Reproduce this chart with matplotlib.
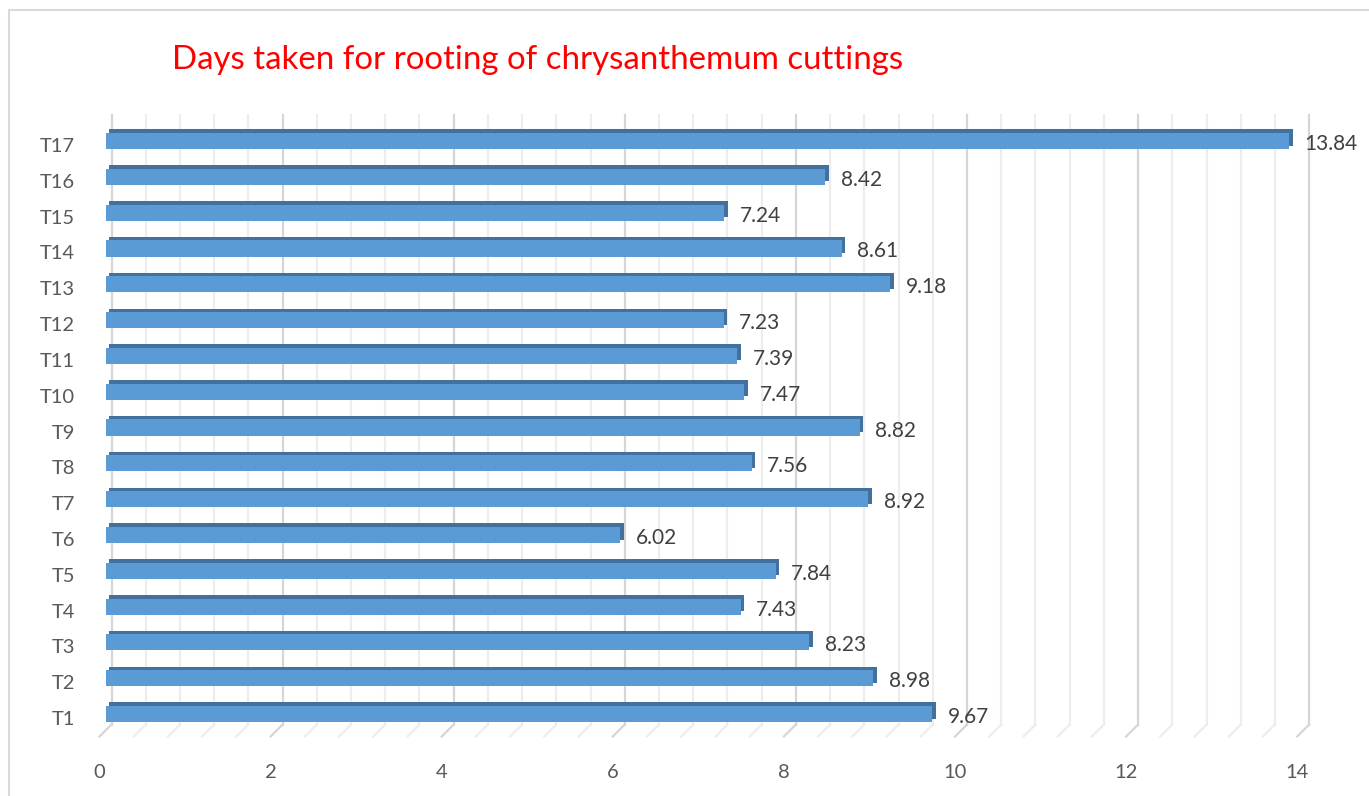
import numpy as np
import matplotlib
matplotlib.use("Agg")
from matplotlib import pyplot as plt
from matplotlib.transforms import ScaledTranslation
from matplotlib.lines import Line2D


treatments = ["T1", "T2", "T3", "T4", "T5", "T6", "T7", "T8", "T9",
              "T10", "T11", "T12", "T13", "T14", "T15", "T16", "T17"]
days = [9.67, 8.98, 8.23, 7.43, 7.84, 6.02, 8.92, 7.56, 8.82,
        7.47, 7.39, 7.23, 9.18, 8.61, 7.24, 8.42, 13.84]
x_ticks = [0, 2, 4, 6, 8, 10, 12, 14]
title = "Days taken for rooting of chrysanthemum cuttings"

plt.rcParams["font.family"] = ["Lato", "DejaVu Sans"]

W, H = 1369, 796
fig = plt.figure(figsize=(W / 100, H / 100), dpi=100)

# mid (bar) plane of the fake 3d chart, in pixels
left_px, right_px = 105.5, 105.5 + 14 * 85.55
top_px, bot_px = 121, 730.5
ax = fig.add_axes([left_px / W, 1 - bot_px / H,
                   (right_px - left_px) / W, (bot_px - top_px) / H])
ylo, yhi = -0.46, 16.56
ax.set_xlim(0, 14)
ax.set_ylim(ylo, yhi)
for s in ax.spines.values():
    s.set_visible(False)

px_x = (right_px - left_px) / 14
px_y = (bot_px - top_px) / (yhi - ylo)
dx, dy = 6 / px_x, 6 / px_y  # half depth of the floor

# back wall gridlines + floor lines
grid = np.arange(0, 14.01, 0.4)
for g in grid:
    major = abs(g / 2 - round(g / 2)) < 1e-6
    c = "#d6d6d6" if major else "#ededed"
    ax.plot([g + dx, g + dx], [ylo + dy, yhi + dy], color=c, lw=1.6,
            clip_on=False, zorder=0)
    ax.plot([g + dx, g - dx], [ylo + dy, ylo - dy], color=c, lw=1.6,
            clip_on=False, zorder=0)

# bars: darker top/side first, then the front face
y = np.arange(len(treatments))
h = 0.45
sx, sy = 3.5 / px_x, 3.5 / px_y
shift = -0.5 / px_x
ax.barh(y + sy, days, left=sx + shift, height=h, color="#41719c", zorder=2)
ax.barh(y, days, left=shift, height=h, color="#5b9bd5", zorder=3)

for yi, v in zip(y, days):
    ax.annotate(f"{v:.2f}", (v, yi), xytext=(15, -3), textcoords="offset pixels",
                ha="left", va="center", fontsize=15, color="#404040")

# tick labels sit on the front plane
ax.set_xticks(x_ticks)
ax.set_xticklabels([str(t) for t in x_ticks])
ax.set_yticks(y)
ax.set_yticklabels(treatments)
ax.tick_params(axis="both", length=0, labelsize=14.5, labelcolor="#595959")
ax.tick_params(axis="x", pad=24)
ax.tick_params(axis="y", pad=22)
for lab in ax.get_xticklabels():
    lab.set_transform(lab.get_transform() + ScaledTranslation(-0.06, 0, fig.dpi_scale_trans))
for lab in ax.get_yticklabels():
    lab.set_transform(lab.get_transform() + ScaledTranslation(0, -0.04, fig.dpi_scale_trans))

fig.text(172 / W, 1 - 69 / H, title, color="#ff0000", fontsize=23.8,
         ha="left", va="baseline")

# chart area border
fig.add_artist(Line2D([9 / W, 9 / W, 1], [0, 1 - 10 / H, 1 - 10 / H],
                      color="#d9d9d9", lw=1.5))

fig.savefig("out.png", dpi=100, facecolor="white")
